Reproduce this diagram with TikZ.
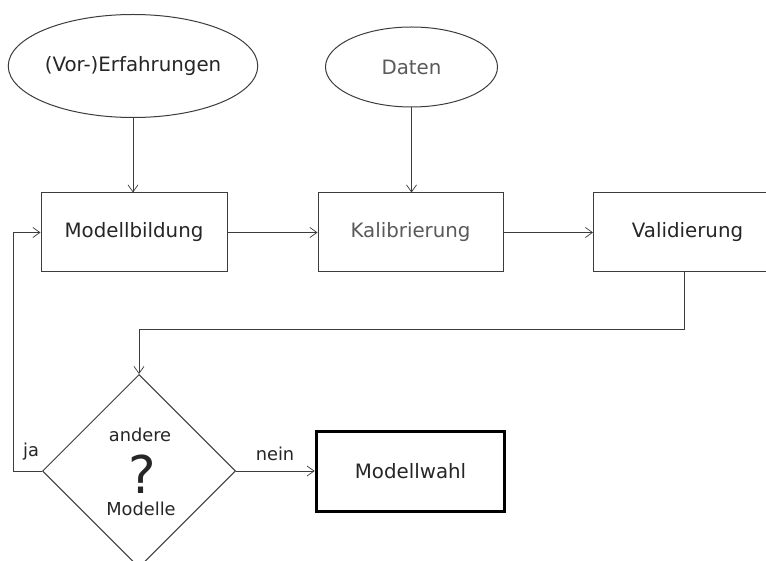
\documentclass[tikz,border=0pt]{standalone}
\usepackage{fontspec}
\setmainfont{DejaVu Sans}
\usetikzlibrary{shapes.geometric,arrows.meta}
\definecolor{linegray}{HTML}{3C3C3C}
\definecolor{textdark}{HTML}{262626}
\definecolor{textgray}{HTML}{5A5A5A}
\tikzset{
  conn/.style={draw=linegray, line width=1pt, -{Straight Barb[length=7pt,width=10pt,line width=0.7pt]}},
  oval/.style={ellipse, draw=linegray, line width=1pt, inner sep=0pt, text=textdark, font=\fontsize{19.8pt}{23pt}\selectfont},
  procbox/.style={rectangle, draw=linegray, line width=1pt, inner sep=0pt, text=textdark, font=\fontsize{19.8pt}{23pt}\selectfont},
  decision/.style={diamond, draw=linegray, line width=1pt, shape aspect=1, inner sep=0pt},
  smalltxt/.style={text=textdark, inner sep=0pt, font=\fontsize{17.8pt}{21pt}\selectfont},
}
\begin{document}
\begin{tikzpicture}[x=1pt,y=-1pt]
\useasboundingbox (0,0) rectangle (766,561);
\clip (0,0) rectangle (766,561);
\fill[white] (0,0) rectangle (766,561);
% nodes
\node[oval, minimum width=246pt, minimum height=103pt] (e1) at (133,66) {(Vor-)Erfahrungen};
\node[oval, minimum width=172pt, minimum height=80pt, text=textgray] (e2) at (411.5,67) {Daten};
\node[procbox, minimum width=186pt, minimum height=79pt] (b1) at (134,232.5) {Modellbildung};
\node[procbox, minimum width=185pt, minimum height=79pt, text=textgray] (b2) at (410.5,232.5) {Kalibrierung};
\node[procbox, minimum width=188pt, minimum height=79pt, anchor=west] (b3) at (593,232.5) {Validierung};
\node[decision, minimum size=193pt] (d) at (139,471) {};
\node[procbox, minimum width=188pt, minimum height=80pt, draw=black, line width=3.8pt] (mw) at (410.5,471.5) {Modellwahl};
% diamond text
\node[smalltxt] (t1) at (140,435) {andere};
\node[text=textdark, inner sep=0pt, font=\fontsize{52pt}{52pt}\selectfont] (t2) at (142,474) {?};
\node[smalltxt] (t3) at (141,509) {Modelle};
% labels
\node[smalltxt] (ja) at (31,452) {ja};
\node[smalltxt] (nein) at (275,454) {nein};
% helper coordinates
\coordinate (v) at (684,330);
\coordinate (j) at (13,0);
% connectors
\draw[conn] (e1.south) -- (e1.south |- b1.north);
\draw[conn] (e2.south) -- (e2.south |- b2.north);
\draw[conn] (b1.east) -- (b2.west);
\draw[conn] (b2.east) -- (b3.west);
\draw[conn] (b3.south -| v) -- (v) -| (d.north);
\draw[conn] (d.west) -- (d.west -| j) |- (b1.west);
\draw[conn] (d.east) -- (d.east -| mw.west);
\end{tikzpicture}
\end{document}
